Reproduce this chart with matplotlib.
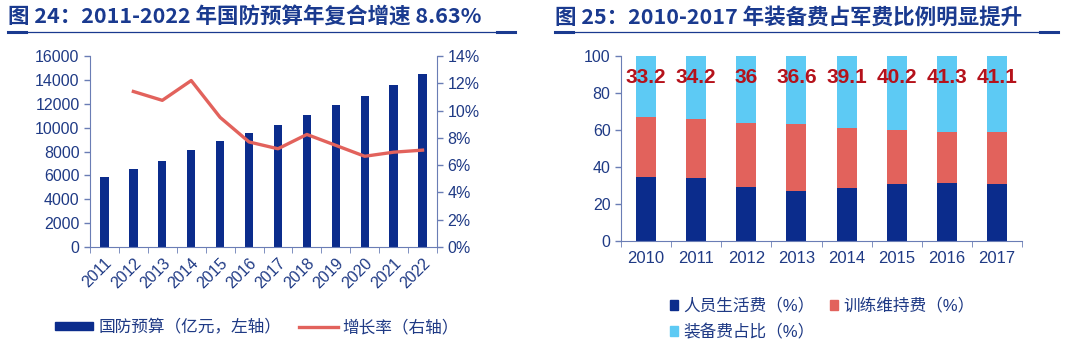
import matplotlib
matplotlib.use("Agg")
import matplotlib.pyplot as plt
from matplotlib.lines import Line2D
from matplotlib.patches import Patch
from matplotlib.ticker import FuncFormatter

plt.rcParams['font.family'] = ['Liberation Sans', 'Noto Sans CJK SC', 'DejaVu Sans']

# left chart: defense budget and growth
years_l = ['2011', '2012', '2013', '2014', '2015', '2016', '2017', '2018',
           '2019', '2020', '2021', '2022']
budget = [5840, 6500, 7200, 8090, 8900, 9550, 10220, 11080, 11920, 12680, 13600, 14500]
growth = [None, 11.4, 10.75, 12.2, 9.5, 7.7, 7.2, 8.25, 7.45, 6.65, 6.95, 7.1]

# right chart: composition of military spending
years_r = ['2010', '2011', '2012', '2013', '2014', '2015', '2016', '2017']
personnel = [34.7, 34.2, 29.1, 26.8, 28.4, 30.8, 31.3, 30.8]
equipment = [33.2, 34.2, 36, 36.6, 39.1, 40.2, 41.3, 41.1]
equip_labels = ['33.2', '34.2', '36', '36.6', '39.1', '40.2', '41.3', '41.1']
training = [100 - p - e for p, e in zip(personnel, equipment)]

NAVY = '#0B2C8C'
RED = '#E2625C'
LIGHT = '#5DCAF4'
TXT = '#1F3A85'
SPINE = '#6A7DB5'
TITLE = '#1A3A8F'

fig = plt.figure(figsize=(10.8, 3.46), dpi=100)


def style_axis(ax):
    ax.tick_params(axis='both', colors=SPINE, labelcolor=TXT, labelsize=11.5,
                   direction='out', length=4, width=1)
    for s in ax.spines.values():
        s.set_color(SPINE)
    ax.spines['top'].set_visible(False)


# ---- left chart
ax1 = fig.add_axes([90 / 1080, 99 / 346, 347 / 1080, 191 / 346])
xl = list(range(len(years_l)))
ax1.bar(xl, budget, width=0.29, color=NAVY, zorder=2)
ax1.set_ylim(0, 16000)
ax1.set_yticks(range(0, 16001, 2000))
ax1.set_xlim(-0.5, len(years_l) - 0.5)
style_axis(ax1)
ax1.spines['right'].set_visible(False)
ax1.set_xticks(xl)
ax1.set_xticklabels(years_l, rotation=45, ha='right', rotation_mode='anchor')
ax1.tick_params(axis='x', which='major', length=0, pad=6)
ax1.set_xticks([i - 0.5 for i in range(len(years_l) + 1)], minor=True)
ax1.tick_params(axis='x', which='minor', length=4, color=SPINE)

ax2 = ax1.twinx()
gx = [i for i, g in zip(xl, growth) if g is not None]
gy = [g / 100 for g in growth if g is not None]
ax2.plot(gx, gy, color=RED, lw=2.4, zorder=3)
ax2.set_ylim(0, 0.14)
ax2.set_yticks([i / 100 for i in range(0, 15, 2)])
ax2.yaxis.set_major_formatter(FuncFormatter(lambda v, p: f'{v * 100:.0f}%'))
style_axis(ax2)
ax2.spines['left'].set_visible(False)
ax2.spines['bottom'].set_visible(False)

fig.legend(handles=[Patch(color=NAVY, label='国防预算（亿元，左轴）'),
                    Line2D([], [], color=RED, lw=2.4, label='增长率（右轴）')],
           loc='center', bbox_to_anchor=(257 / 1080, 1 - 327 / 346), ncol=2,
           frameon=False, fontsize=12, handlelength=2.3, handleheight=0.4,
           handletextpad=0.3, columnspacing=1.1, labelcolor=TXT)

# ---- right chart
ax3 = fig.add_axes([621 / 1080, 105 / 346, 401 / 1080, 185 / 346])
xr = list(range(len(years_r)))
bottom2 = [p + t for p, t in zip(personnel, training)]
ax3.bar(xr, personnel, width=0.4, color=NAVY, zorder=2)
ax3.bar(xr, training, width=0.4, bottom=personnel, color=RED, zorder=2)
ax3.bar(xr, equipment, width=0.4, bottom=bottom2, color=LIGHT, zorder=2)
for x, lab in zip(xr, equip_labels):
    ax3.text(x, 88.3, lab, ha='center', va='center', fontsize=15,
             fontweight='bold', color='#B5121B', zorder=4)
ax3.set_ylim(0, 100)
ax3.set_yticks(range(0, 101, 20))
ax3.set_xlim(-0.5, len(years_r) - 0.5)
style_axis(ax3)
ax3.spines['right'].set_visible(False)
ax3.set_xticks(xr)
ax3.set_xticklabels(years_r, fontsize=12)
ax3.tick_params(axis='x', which='major', length=0, pad=7)
ax3.set_xticks([i - 0.5 for i in range(len(years_r) + 1)], minor=True)
ax3.tick_params(axis='x', which='minor', length=4, color=SPINE)

fig.legend(handles=[Patch(color=NAVY, label='人员生活费（%）'),
                    Patch(color=LIGHT, label='装备费占比（%）'),
                    Patch(color=RED, label='训练维持费（%）')],
           loc='upper left', bbox_to_anchor=(655 / 1080, 1 - 283 / 346), ncol=2,
           frameon=False, fontsize=12, handlelength=0.5, handleheight=0.5,
           handletextpad=0.3, columnspacing=0.9, labelspacing=0.6,
           labelcolor=TXT)

# ---- titles with underline
for x0, x1, title in [(8, 515, '图 24：2011-2022 年国防预算年复合增速 8.63%'),
                      (555, 1058, '图 25：2010-2017 年装备费占军费比例明显提升')]:
    fig.text(x0 / 1080, 1 - 17 / 346, title, ha='left', va='center',
             fontsize=15.5, fontweight='bold', color=TITLE,
             family=['Noto Sans CJK SC', 'DejaVu Sans'])
    y = 1 - 32 / 346
    fig.add_artist(Line2D([x0 / 1080, x1 / 1080], [y, y], color=TITLE, lw=0.9))
    fig.add_artist(Line2D([x0 / 1080, (x0 + 18) / 1080], [y, y], color=TITLE, lw=2.2))
    fig.add_artist(Line2D([(x1 - 18) / 1080, x1 / 1080], [y, y], color=TITLE, lw=2.2))

fig.savefig('out.png', dpi=100)
